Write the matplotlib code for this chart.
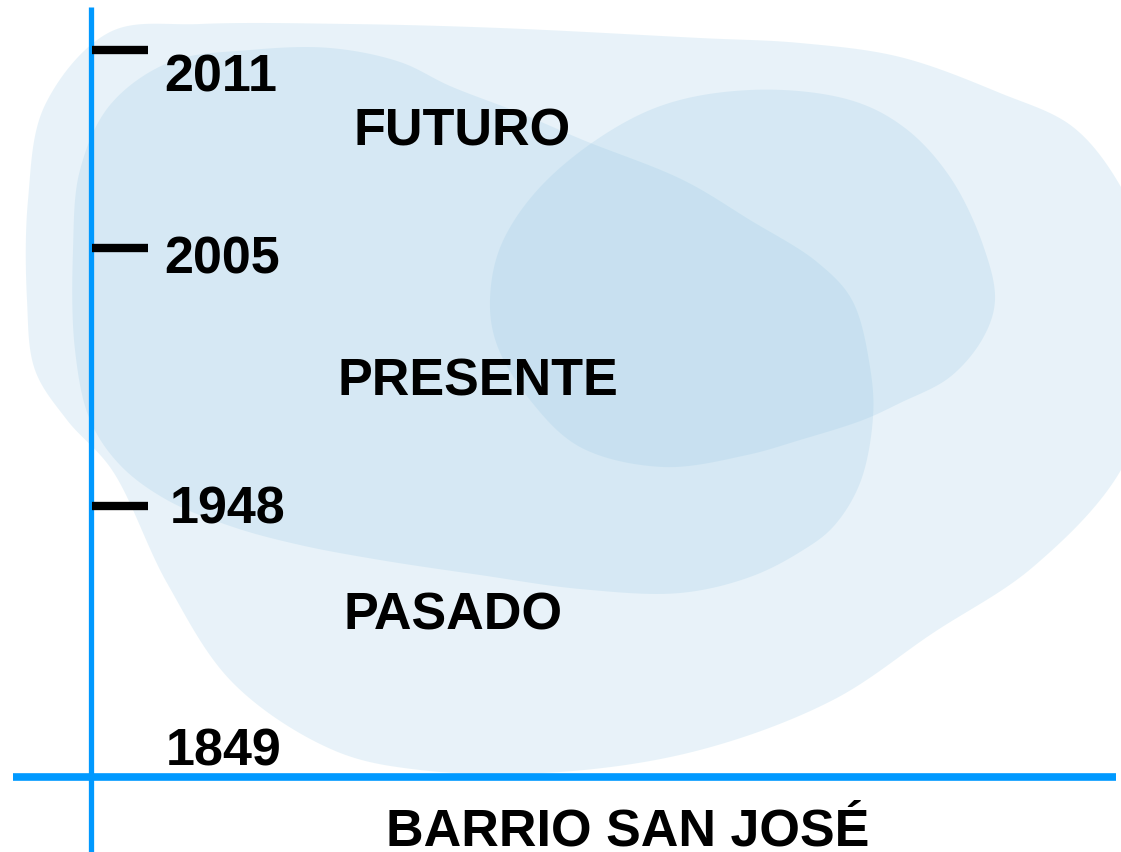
import numpy as np
import matplotlib
matplotlib.use("Agg")
import matplotlib.pyplot as plt
from matplotlib.patches import Polygon

# ---------------- data ----------------
years = ["2011", "2005", "1948", "1849"]
year_has_tick = [True, True, True, False]
periods = ["FUTURO", "PRESENTE", "PASADO"]
axis_label = "BARRIO SAN JOSÉ"

# ---------------- layout (pixel space of the 1121x852 canvas) ----------------
W, H = 1121, 852
year_x = [164, 164, 170, 166]
year_baseline = [92, 273, 523, 765]
tick_y = [50, 248, 506, None]
period_cx = [462, 478, 453]
period_baseline = [146, 395, 630]
label_cx, label_baseline = 628, 846

blob_outer = [(110, 32), (200, 24), (350, 24), (500, 28), (700, 38), (800, 43),
              (900, 57), (1000, 93), (1073, 127), (1121, 187), (1150, 260),
              (1160, 350), (1121, 470), (1033, 567), (933, 633), (833, 700),
              (700, 750), (560, 772), (420, 770), (333, 750), (233, 683),
              (167, 583), (112, 470), (67, 420), (35, 370), (27, 300),
              (28, 200), (45, 105)]
blob_middle = [(170, 62), (250, 50), (330, 48), (400, 62), (450, 86), (520, 113),
               (583, 140), (683, 180), (750, 220), (817, 262), (852, 300),
               (870, 367), (873, 417), (860, 483), (833, 527), (800, 552),
               (750, 577), (680, 593), (580, 589), (480, 575), (380, 560),
               (300, 545), (233, 527), (167, 500), (120, 465), (90, 420),
               (75, 350), (73, 250), (80, 170), (110, 105)]
blob_inner = [(750, 90), (850, 100), (905, 128), (950, 177), (983, 245),
              (995, 300), (983, 338), (950, 377), (900, 403), (863, 420),
              (800, 440), (747, 455), (663, 467), (580, 447), (530, 400),
              (497, 345), (490, 300), (502, 243), (550, 177), (650, 110)]

BLOB_COLOR = "#97C8E4"
BLOB_ALPHA = 0.22
AXIS_BLUE = "#0099FF"
FONT = ["Liberation Sans", "DejaVu Sans"]
FS = 37.5


def smooth_closed(points, n=40, alpha=0.5):
    """Centripetal Catmull-Rom spline through a closed list of points."""
    P = np.asarray(points, dtype=float)
    m = len(P)
    out = []
    for i in range(m):
        p0, p1, p2, p3 = P[(i - 1) % m], P[i], P[(i + 1) % m], P[(i + 2) % m]
        t0 = 0.0
        t1 = t0 + np.linalg.norm(p1 - p0) ** alpha
        t2 = t1 + np.linalg.norm(p2 - p1) ** alpha
        t3 = t2 + np.linalg.norm(p3 - p2) ** alpha
        t = np.linspace(t1, t2, n, endpoint=False)[:, None]
        a1 = (t1 - t) / (t1 - t0) * p0 + (t - t0) / (t1 - t0) * p1
        a2 = (t2 - t) / (t2 - t1) * p1 + (t - t1) / (t2 - t1) * p2
        a3 = (t3 - t) / (t3 - t2) * p2 + (t - t2) / (t3 - t2) * p3
        b1 = (t2 - t) / (t2 - t0) * a1 + (t - t0) / (t2 - t0) * a2
        b2 = (t3 - t) / (t3 - t1) * a2 + (t - t1) / (t3 - t1) * a3
        c = (t2 - t) / (t2 - t1) * b1 + (t - t1) / (t2 - t1) * b2
        out.append(c)
    return np.vstack(out)


fig = plt.figure(figsize=(W / 100, H / 100), dpi=100)
ax = fig.add_axes([0, 0, 1, 1])
ax.set_xlim(0, W)
ax.set_ylim(H, 0)
ax.axis("off")

for pts in (blob_outer, blob_middle, blob_inner):
    ax.add_patch(Polygon(smooth_closed(pts), closed=True, facecolor=BLOB_COLOR,
                         alpha=BLOB_ALPHA, edgecolor="none", zorder=1))

# axes lines
ax.plot([90.5, 90.5], [7, H + 5], color=AXIS_BLUE, lw=3.8,
        solid_capstyle="butt", zorder=3)
ax.plot([13, 1116], [777, 777], color=AXIS_BLUE, lw=5.5,
        solid_capstyle="butt", zorder=3)

# ticks and year labels
for yr, has_tick, ty, yx, yb in zip(years, year_has_tick, tick_y, year_x, year_baseline):
    if has_tick:
        ax.plot([92, 148], [ty, ty], color="black", lw=6.0,
                solid_capstyle="butt", zorder=4)
    ax.text(yx, yb, yr, fontsize=FS, fontweight="bold", family=FONT,
            ha="left", va="baseline", color="black", zorder=5)

for name, cx, bl in zip(periods, period_cx, period_baseline):
    ax.text(cx, bl, name, fontsize=FS, fontweight="bold", family=FONT,
            ha="center", va="baseline", color="black", zorder=5)

ax.text(label_cx, label_baseline, axis_label, fontsize=FS, fontweight="bold",
        family=FONT, ha="center", va="baseline", color="black", zorder=5)

fig.savefig("out.png", dpi=100, facecolor="white")
